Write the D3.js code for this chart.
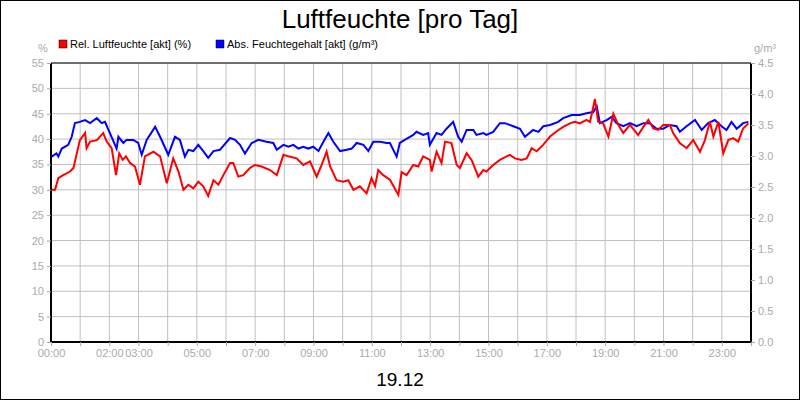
<!DOCTYPE html>
<html><head><meta charset="utf-8">
<script src="https://cdn.jsdelivr.net/npm/d3@7"></script>
<style>body{margin:0;background:#fff}svg{font-family:Arial,"Liberation Sans",sans-serif}</style>
</head><body><svg id="c" width="800" height="400"></svg>
<script>
// Rel. Luftfeuchte (%), hours since 00:00
const relHours = [0.02,0.14,0.25,0.42,0.65,0.77,0.99,1.17,1.22,1.34,1.57,1.79,1.91,2.08,2.23,2.34,2.46,2.57,2.71,2.88,3.05,3.22,3.51,3.74,3.97,4.19,4.37,4.54,4.71,4.88,5.05,5.22,5.39,5.57,5.74,5.91,6.14,6.25,6.42,6.59,6.82,6.99,7.22,7.51,7.74,7.97,8.14,8.42,8.65,8.88,9.11,9.28,9.45,9.57,9.79,10.02,10.19,10.37,10.59,10.82,10.99,11.11,11.22,11.39,
  11.62,11.91,12.02,12.19,12.42,12.59,12.76,12.99,13.05,13.22,13.39,13.51,13.73,13.91,14.02,14.25,14.42,14.65,14.82,14.93,15.16,15.39,15.73,15.91,16.13,16.31,16.48,16.65,16.88,17.11,17.33,17.56,17.79,17.96,18.13,18.36,18.48,18.65,18.76,18.93,19.11,19.28,19.45,19.62,19.85,20.13,20.31,20.48,20.65,20.82,20.99,21.22,21.33,21.56,21.79,22.02,22.25,22.42,22.59,22.71,22.88,23.05,23.22,23.39,23.56,23.73,23.91];
const relValues = [30.0,30.0,32.3,32.9,33.6,34.3,39.8,41.2,38.2,39.5,39.8,41.2,39.5,38.2,32.9,37.2,35.9,36.6,35.3,34.6,31.0,36.6,37.5,36.6,31.3,36.2,33.6,30.0,31.0,30.3,31.6,30.7,28.8,31.9,31.0,32.9,35.3,35.3,32.6,32.9,34.3,34.9,34.6,33.9,32.9,36.9,36.6,36.2,34.9,35.6,32.6,34.9,37.5,34.6,31.9,31.6,31.9,30.0,30.7,29.3,32.3,30.7,33.9,32.9,
  32.0,29.0,33.5,32.9,34.9,34.6,36.6,35.9,33.6,37.5,35.3,39.5,39.2,34.9,34.3,37.2,35.9,32.6,33.9,33.6,34.9,35.9,36.9,36.2,35.9,36.2,38.2,37.6,38.9,40.5,41.5,42.4,43.1,43.4,43.1,43.8,43.4,47.9,43.4,43.1,40.5,45.0,42.8,41.2,42.8,40.8,42.4,43.8,42.1,41.8,42.8,42.8,41.2,39.2,38.2,39.8,37.5,39.8,43.4,40.5,43.4,37.2,39.8,40.2,39.5,42.1,43.1];
// Abs. Feuchtegehalt (g/m³)
const absHours = [0.02,0.19,0.25,0.37,0.59,0.71,0.82,0.99,1.17,1.34,1.57,1.74,1.85,2.02,2.25,2.31,2.48,2.59,2.82,2.99,3.11,3.28,3.57,3.74,4.02,4.25,4.42,4.59,4.71,4.88,5.05,5.22,5.39,5.57,5.79,6.14,6.31,6.48,6.65,6.88,7.11,7.39,7.62,7.74,7.97,8.14,8.31,8.48,8.65,8.82,8.99,9.17,9.34,9.51,9.68,9.91,10.14,10.31,10.48,10.71,10.88,11.05,11.28,11.51,
  11.62,11.85,11.96,12.13,12.42,12.53,12.76,12.93,12.99,13.22,13.39,13.56,13.79,13.96,14.08,14.25,14.48,14.59,14.82,14.93,15.16,15.39,15.56,15.85,16.08,16.25,16.53,16.71,16.88,17.11,17.39,17.56,17.85,18.13,18.36,18.59,18.71,18.82,19.05,19.22,19.39,19.62,19.85,20.08,20.31,20.53,20.76,20.99,21.22,21.45,21.56,21.79,22.08,22.31,22.53,22.76,22.99,23.16,23.33,23.51,23.73,23.91];
const absValues = [2.99,3.04,2.99,3.12,3.18,3.31,3.53,3.55,3.58,3.53,3.61,3.53,3.55,3.37,3.12,3.31,3.21,3.26,3.26,3.21,3.02,3.26,3.47,3.31,3.02,3.31,3.26,2.99,3.10,3.08,3.18,3.08,2.97,3.08,3.10,3.29,3.26,3.18,3.04,3.21,3.26,3.23,3.21,3.10,3.18,3.15,3.18,3.12,3.15,3.12,3.15,3.08,3.23,3.37,3.23,3.08,3.10,3.12,3.21,3.18,3.08,3.23,3.23,3.21,
  3.21,2.99,3.21,3.26,3.34,3.39,3.34,3.37,3.18,3.37,3.34,3.44,3.55,3.31,3.23,3.42,3.42,3.34,3.37,3.34,3.39,3.53,3.53,3.48,3.44,3.31,3.42,3.39,3.48,3.50,3.55,3.61,3.66,3.66,3.69,3.71,3.80,3.53,3.58,3.63,3.53,3.48,3.53,3.48,3.53,3.53,3.44,3.44,3.50,3.48,3.39,3.48,3.58,3.42,3.53,3.58,3.48,3.42,3.55,3.44,3.53,3.55];
const leftTicks = d3.range(0, 56, 5);
const rightTicks = d3.range(0, 4.51, 0.5);
const hourLabels = [0, 2, 3, 5, 7, 9, 11, 13, 15, 17, 19, 21, 23];

const svg = d3.select('#c');
const L = 51, R = 751, T = 63, B = 342;
const x = d3.scaleLinear().domain([0, 24]).range([L, R]);
const yL = d3.scaleLinear().domain([0, 55]).range([B, T]);
const yR = d3.scaleLinear().domain([0, 4.5]).range([B, T]);
const grey = '#aaa';

svg.append('rect').attr('x', 0.5).attr('y', 0.5).attr('width', 799).attr('height', 399)
  .attr('fill', '#fff').attr('stroke', '#000');

// grid
const grid = svg.append('g').attr('stroke', '#c0c0c0');
d3.range(1, 24).forEach(h => grid.append('line').attr('x1', x(h)).attr('x2', x(h)).attr('y1', T).attr('y2', B));
leftTicks.slice(1).forEach(v => grid.append('line').attr('x1', L).attr('x2', R).attr('y1', yL(v)).attr('y2', yL(v)));

// axes
const gl = svg.append('g').attr('transform', `translate(${L},0)`)
  .call(d3.axisLeft(yL).tickValues(leftTicks).tickSize(4).tickPadding(3));
const gr = svg.append('g').attr('transform', `translate(${R},0)`)
  .call(d3.axisRight(yR).tickValues(rightTicks).tickSize(4).tickPadding(3).tickFormat(d3.format('.1f')));
const gb = svg.append('g').attr('transform', `translate(0,${B})`)
  .call(d3.axisBottom(x).tickValues(d3.range(0, 25)).tickSize(4).tickPadding(3)
    .tickFormat(h => hourLabels.includes(h) ? String(h).padStart(2, '0') + ':00' : ''));
[gl, gr, gb].forEach(g => {
  g.select('.domain').attr('stroke', '#000').attr('stroke-width', 2);
  g.selectAll('.tick line').attr('stroke', grey);
  g.selectAll('.tick text').attr('fill', grey).attr('font-size', 11);
});
gb.select('.domain').attr('d', `M${L},0H${R}`);
gl.select('.domain').attr('d', `M0,${T}V${B}`);
gr.select('.domain').attr('d', `M0,${T}V${B}`);
svg.append('line').attr('x1', L).attr('x2', R).attr('y1', T).attr('y2', T).attr('stroke', '#000').attr('stroke-width', 1);

// lines
const relLine = d3.line().x((d, i) => x(relHours[i])).y(d => yL(d));
const absLine = d3.line().x((d, i) => x(absHours[i])).y(d => yR(d));
svg.append('path').attr('d', absLine(absValues)).attr('fill', 'none').attr('stroke', '#0000ff').attr('stroke-width', 2);
svg.append('path').attr('d', relLine(relValues)).attr('fill', 'none').attr('stroke', '#ff0000').attr('stroke-width', 2);

// titles and legend
svg.append('text').attr('x', 400).attr('y', 28).attr('text-anchor', 'middle').attr('font-size', 26).text('Luftfeuchte [pro Tag]');
svg.append('text').attr('x', 400).attr('y', 386).attr('text-anchor', 'middle').attr('font-size', 19).text('19.12');
svg.append('text').attr('x', 43).attr('y', 52).attr('text-anchor', 'middle').attr('font-size', 11).attr('fill', grey).text('%');
svg.append('text').attr('x', 765).attr('y', 52).attr('text-anchor', 'middle').attr('font-size', 11).attr('fill', grey).text('g/m³');
const legend = [['Rel. Luftfeuchte [akt] (%)', '#ff0000', 59], ['Abs. Feuchtegehalt [akt] (g/m³)', '#0000ff', 216]];
legend.forEach(([t, c, lx]) => {
  svg.append('rect').attr('x', lx).attr('y', 40).attr('width', 8).attr('height', 8).attr('fill', c).attr('stroke', '#000').attr('stroke-width', 0.5);
  svg.append('text').attr('x', lx + 11).attr('y', 48).attr('font-size', 11).text(t);
});
</script></body></html>
